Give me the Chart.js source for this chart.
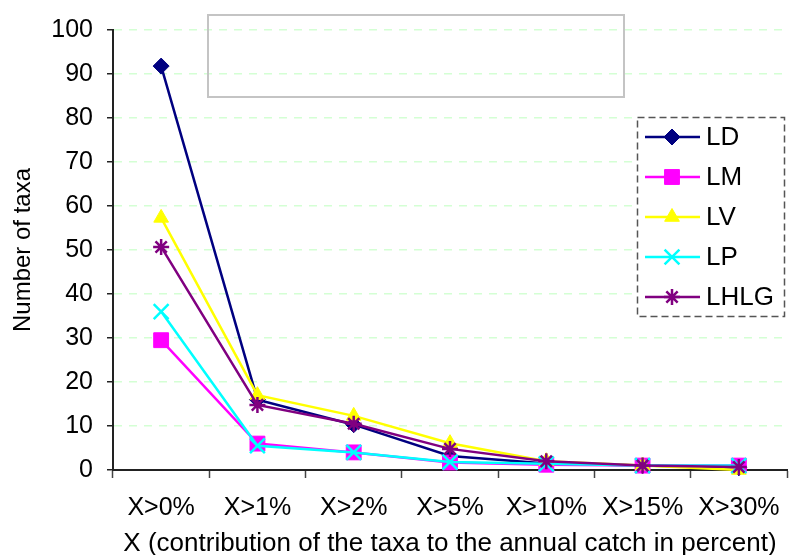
<!DOCTYPE html>
<html>
<head>
<meta charset="utf-8">
<script src="https://cdn.jsdelivr.net/npm/chart.js@4/dist/chart.umd.min.js"></script>
<style>
  html, body { margin: 0; padding: 0; background: #fff; }
  #wrap { width: 800px; height: 555px; }
</style>
</head>
<body>
<div id="wrap"><canvas id="chart" width="800" height="555"></canvas></div>
<script>
// categories and series
const categories = ['X>0%', 'X>1%', 'X>2%', 'X>5%', 'X>10%', 'X>15%', 'X>30%'];
const ld   = [91.8, 16, 10.3, 3.2, 1.5, 1, 0.5];
const lm   = [29.5, 6, 4, 1.7, 1.2, 1, 1];
const lv   = [57.3, 17, 12.3, 6.1, 2, 1, 0];
const lp   = [36, 5.5, 4, 1.8, 1.4, 1, 1];
const lhlg = [50.7, 14.8, 10.5, 4.8, 2, 1, 0.7];
const yTicks = [0, 10, 20, 30, 40, 50, 60, 70, 80, 90, 100];

const FONT = '"Liberation Sans", Arial, sans-serif';

function series(label, data, color, style, radius, order) {
  return {
    label, data, order,
    borderColor: color,
    backgroundColor: color,
    pointBackgroundColor: color,
    pointBorderColor: color,
    pointStyle: style,
    pointRadius: radius,
    pointBorderWidth: style === 'crossRot' || style === 'star' ? 2.5 : 1,
    borderWidth: 2.5,
    tension: 0,
    clip: false
  };
}

const datasets = [
  series('LD', ld, '#000080', 'rectRot', 8, 5),
  series('LM', lm, '#ff00ff', 'rect', 10.5, 4),
  series('LV', lv, '#ffff00', 'triangle', 8.5, 3),
  series('LP', lp, '#00ffff', 'crossRot', 10.5, 2),
  series('LHLG', lhlg, '#800080', 'star', 8, 1)
];

// empty grey frame at top + dashed legend box
const extras = {
  id: 'extras',
  afterDraw(chart) {
    const { ctx } = chart;
    ctx.save();
    ctx.strokeStyle = '#c4c4c4';
    ctx.lineWidth = 2;
    ctx.strokeRect(208, 15, 416, 82);

    // legend
    const bx = 637, by = 117, bw = 147, bh = 199;
    ctx.fillStyle = '#fff';
    ctx.fillRect(bx, by, bw, bh);
    ctx.setLineDash([7, 4]);
    ctx.strokeStyle = '#555';
    ctx.lineWidth = 1.5;
    ctx.strokeRect(bx + 0.5, by + 0.5, bw, bh);
    ctx.setLineDash([]);

    ctx.font = '26px ' + FONT;
    ctx.textBaseline = 'middle';
    ctx.textAlign = 'left';
    datasets.forEach((ds, i) => {
      const y = 137 + i * 40;
      ctx.strokeStyle = ds.borderColor;
      ctx.lineWidth = 2.5;
      ctx.beginPath();
      ctx.moveTo(645, y);
      ctx.lineTo(700, y);
      ctx.stroke();
      ctx.fillStyle = ds.pointBackgroundColor;
      ctx.strokeStyle = ds.pointBorderColor;
      ctx.lineWidth = ds.pointBorderWidth;
      Chart.helpers.drawPoint(ctx, { pointStyle: ds.pointStyle, radius: ds.pointRadius, rotation: 0, borderWidth: ds.pointBorderWidth }, 672, y);
      ctx.fillStyle = '#000';
      ctx.fillText(ds.label, 706, y + 1);
    });
    ctx.restore();
  }
};

new Chart(document.getElementById('chart'), {
  type: 'line',
  data: { labels: categories, datasets },
  options: {
    responsive: false,
    animation: false,
    layout: { padding: { top: 30, right: 0, left: 0, bottom: 0 } },
    plugins: {
      legend: { display: false },
      tooltip: { enabled: false }
    },
    scales: {
      x: {
        offset: true,
        grid: {
          offset: true,
          drawOnChartArea: false,
          drawTicks: true,
          tickLength: 8,
          tickColor: '#444',
          tickWidth: 1.5
        },
        border: { color: '#222', width: 2 },
        ticks: {
          color: '#000',
          font: { family: FONT, size: 25 },
          padding: 15,
          maxRotation: 0,
          autoSkip: false
        },
        title: {
          display: true,
          text: 'X (contribution of the taxa to the annual catch in percent)',
          color: '#000',
          font: { family: FONT, size: 26 },
          padding: { top: 0, bottom: -4 }
        },
        afterFit(scale) { scale.height = 85; }
      },
      y: {
        min: 0,
        max: 100,
        afterBuildTicks(scale) { scale.ticks = yTicks.map(v => ({ value: v })); },
        grid: {
          color: '#d4ffd4',
          lineWidth: 1.5,
          drawTicks: true,
          tickLength: 6,
          tickColor: '#222',
          tickWidth: 1.5
        },
        border: { color: '#222', width: 2, dash: [8, 7] },
        ticks: {
          color: '#000',
          font: { family: FONT, size: 25 },
          padding: 14
        },
        title: {
          display: true,
          text: 'Number of taxa',
          color: '#000',
          font: { family: FONT, size: 24 },
          padding: { top: 9, bottom: 0 }
        },
        afterFit(scale) { scale.width = 113; }
      }
    }
  },
  plugins: [extras]
});
</script>
</body>
</html>
